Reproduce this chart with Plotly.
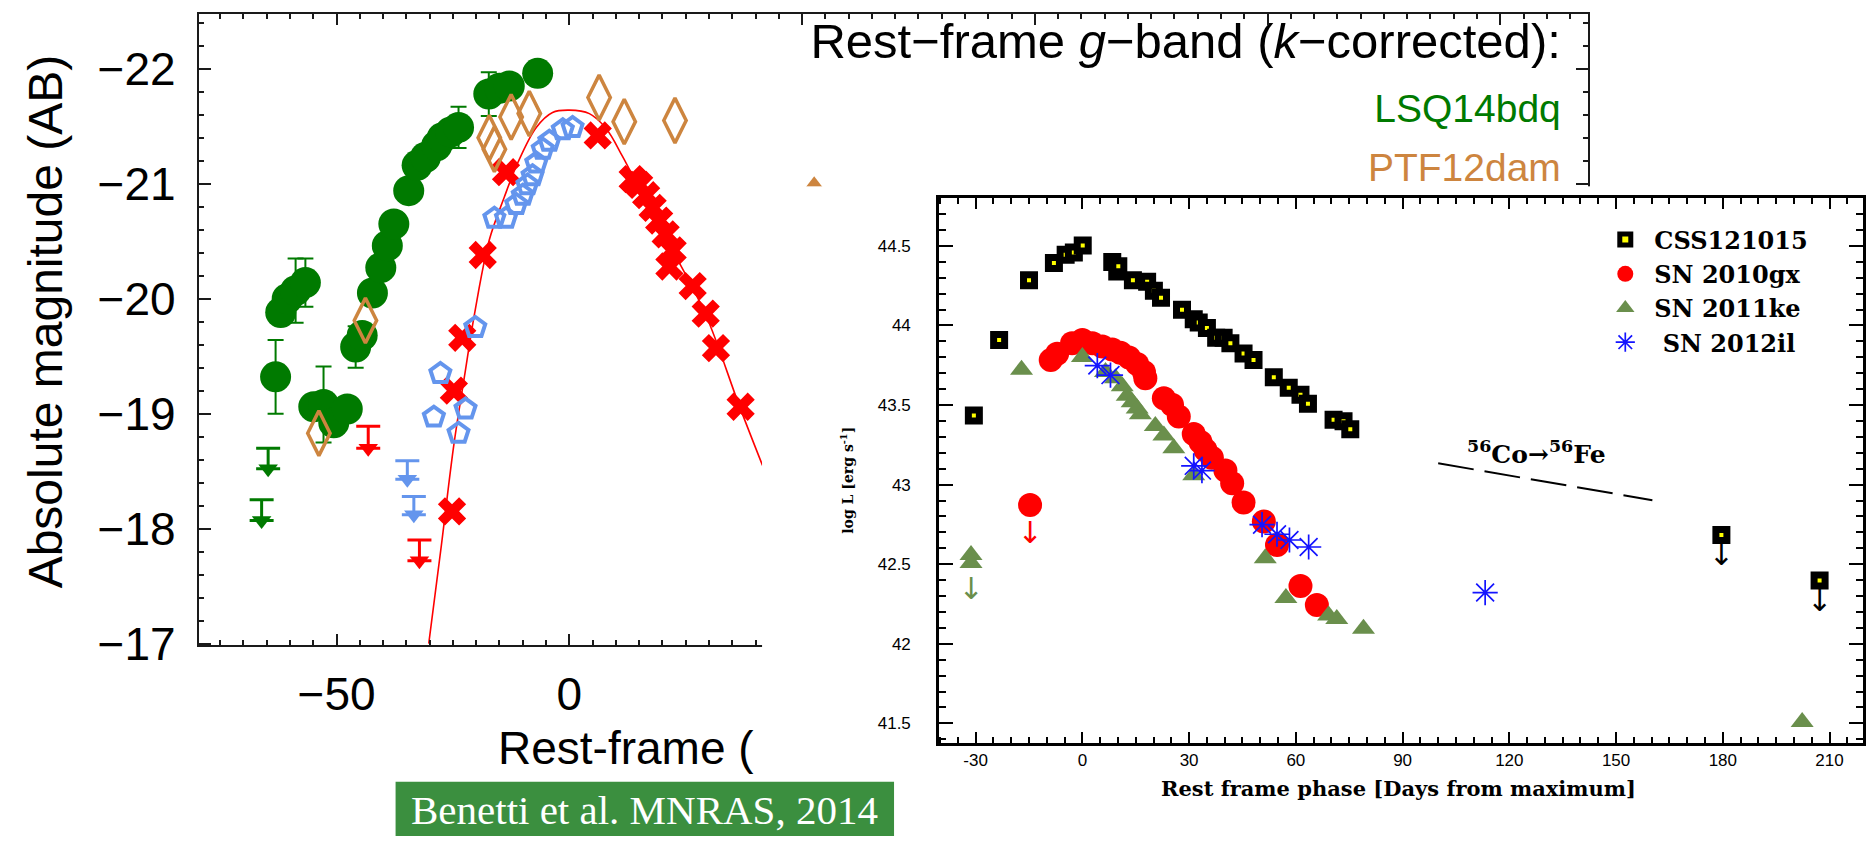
import plotly.graph_objects as go

W, H = 1866, 861

# ---------------- Left chart: rest-frame g-band light curves ----------------
lsq_day = [-63.1, -62.0, -60.6, -58.8, -56.7, -54.9, -52.8, -50.6, -47.7, -45.9, -44.5,
           -42.3, -40.5, -39.1, -37.7, -34.5, -32.7, -30.9, -28.5, -27.3, -25.5, -23.8,
           -17.3, -15.0, -12.9, -6.8]
lsq_mag = [-19.32, -19.88, -20.00, -20.07, -20.14, -19.06, -19.08, -18.92, -19.04, -19.58, -19.68,
           -20.05, -20.27, -20.46, -20.65, -20.94, -21.16, -21.23, -21.33, -21.40, -21.45, -21.49,
           -21.78, -21.83, -21.85, -21.96]
lsq_err = [0.32, 0, 0, 0.28, 0.21, 0, 0.33, 0, 0, 0.18, 0,
           0, 0, 0, 0, 0, 0, 0, 0, 0, 0, 0.18,
           0.19, 0, 0, 0]
lsq_lim_day = [-64.7, -66.1]
lsq_lim_cap = [-18.70, -18.25]
lsq_lim_head = [-18.52, -18.07]

ptf_day = [-53.8, -43.8, -17.2, -16.1, -12.5, -8.6, 6.4, 11.8, 22.7]
ptf_mag = [-18.83, -19.81, -21.40, -21.30, -21.58, -21.61, -21.75, -21.54, -21.55]

tri_day = [52.6]
tri_mag = [-20.97]

blue_day = [-29.1, -27.7, -23.8, -22.3, -20.2, -16.1, -13.6, -11.4, -10.0, -9.0, -7.9,
            -7.1, -5.7, -4.3, -1.4, 0.7]
blue_mag = [-18.97, -19.35, -18.83, -19.04, -19.75, -20.70, -20.70, -20.82, -20.90, -20.99, -21.07,
            -21.18, -21.30, -21.37, -21.47, -21.49]
blue_lim_day = [-34.8, -33.4]
blue_lim_cap = [-18.59, -18.28]
blue_lim_head = [-18.43, -18.12]

red_day = [-25.2, -24.8, -23.0, -18.6, -13.6, 6.1, 13.6, 15.0, 16.5, 17.9, 19.3, 20.7,
           21.5, 22.2, 26.5, 29.3, 31.5, 36.8]
red_mag = [-18.15, -19.20, -19.66, -20.38, -21.10, -21.42, -21.04, -20.99, -20.90, -20.79, -20.68, -20.56,
           -20.28, -20.42, -20.11, -19.87, -19.57, -19.06]
red_lim_day = [-43.2, -32.2]
red_lim_cap = [-18.89, -17.90]
red_lim_head = [-18.70, -17.72]

fit_day = [-30.2, -27.5, -24.8, -22.5, -20.4, -17.2, -14.0, -11.1, -7.1, -3.6, 0.0,
           4.3, 7.9, 11.4, 15.0, 22.2, 29.3, 36.5, 41.5]
fit_mag = [-17.00, -17.85, -18.73, -19.33, -19.86, -20.51, -20.88, -21.18, -21.49, -21.62, -21.64,
           -21.61, -21.48, -21.24, -20.96, -20.42, -19.86, -19.07, -18.55]

left_labels = ["Rest\u2212frame <i>g</i>\u2212band (<i>k</i>\u2212corrected):", "LSQ14bdq", "PTF12dam"]
left_xtitle = "Rest-frame ("
left_ytitle = "Absolute magnitude (AB)"

# ---------------- Right chart: bolometric light curves ----------------
css_day = [-30.5, -23.4, -15.0, -8.0, -4.7, -2.4, 0.1, 8.4, 9.8, 10.1, 14.2, 18.2, 20.1, 22.1,
           28.0, 31.3, 32.7, 35.0, 37.6, 39.7, 41.6, 45.3, 48.1, 53.8, 58.0, 61.3, 63.4,
           70.6, 73.4, 75.3]
css_logL = [43.434, 43.908, 44.284, 44.392, 44.444, 44.458, 44.502, 44.398, 44.338, 44.372, 44.284,
            44.274, 44.218, 44.174, 44.098, 44.038, 44.018, 43.984, 43.922, 43.922, 43.888, 43.824,
            43.782, 43.674, 43.608, 43.564, 43.508, 43.408, 43.398, 43.348]
css_lim_day = [179.6, 207.2]
css_lim_logL = [42.684, 42.398]

gx_day = [-8.9, -7.1, -2.9, 0.0, 2.8, 5.6, 8.4, 10.7, 13.1, 15.4, 17.3, 17.7, 22.9, 25.2, 27.1,
          31.3, 33.2, 34.6, 36.4, 40.2, 42.1, 45.3, 51.0, 54.7, 61.3, 65.9]
gx_logL = [43.782, 43.822, 43.888, 43.908, 43.888, 43.868, 43.848, 43.828, 43.798, 43.758, 43.708,
           43.668, 43.542, 43.502, 43.428, 43.318, 43.268, 43.218, 43.168, 43.088, 43.008, 42.888,
           42.768, 42.620, 42.363, 42.243]
gx_lim_day = [-14.7]
gx_lim_logL = [42.872]

ke_day = [-17.1, 0.0, 6.5, 9.3, 11.2, 12.6, 14.0, 15.4, 16.3, 20.5, 22.9, 25.7, 31.3,
          51.4, 57.2, 69.2, 71.5, 79.0, 202.3]
ke_logL = [43.722, 43.802, 43.708, 43.668, 43.618, 43.558, 43.518, 43.478, 43.442, 43.368, 43.308,
           43.228, 43.058, 42.538, 42.288, 42.178, 42.155, 42.094, 41.508]
ke_lim_day = [-31.3, -31.3]
ke_lim_logL = [42.558, 42.508]

il_day = [4.2, 7.9, 31.3, 33.6, 50.5, 54.7, 58.2, 63.6, 113.2]
il_logL = [43.748, 43.688, 43.118, 43.088, 42.748, 42.688, 42.652, 42.608, 42.322]

co_day = [100.0, 160.2]
co_logL = [43.134, 42.902]

right_names = ["CSS121015", "SN 2010gx", "SN 2011ke", " SN 2012il"]
r_xtick_vals = [-30, 0, 30, 60, 90, 120, 150, 180, 210]
r_xtick_text = ["-30", "0", "30", "60", "90", "120", "150", "180", "210"]
right_xtitle = "Rest frame phase [Days from maximum]"
right_ytitle = "log L [erg s<sup>-1</sup>]"
co_label = "<sup>56</sup>Co\u2192<sup>56</sup>Fe"
credit = "Benetti et al. MNRAS, 2014"
limit_glyph = "\u2193"

# ---------------- styles ----------------
GREEN = "#007a00"
PERU = "#cd853f"
CBLUE = "#6495ed"
RED = "#ff0000"
OLIVE = "#6a8f4c"
SBLUE = "#1414ff"
AXC = "#1a1a1a"
SANS = "Liberation Sans"
SERIF = "DejaVu Serif"

fig = go.Figure()

def L(**kw):
    kw.setdefault("xaxis", "x")
    kw.setdefault("yaxis", "y")
    kw.setdefault("showlegend", False)
    kw.setdefault("hoverinfo", "skip")
    return go.Scatter(**kw)

fig.add_trace(L(x=fit_day, y=fit_mag, mode="lines", line=dict(color=RED, width=1.6, shape="spline")))
fig.add_trace(L(x=lsq_day, y=lsq_mag, mode="markers",
                marker=dict(symbol="circle", size=31, color=GREEN),
                error_y=dict(type="data", array=lsq_err, visible=True, color=GREEN, thickness=2, width=8)))
fig.add_trace(L(x=red_day, y=red_mag, mode="markers",
                marker=dict(symbol="x", size=25, color=RED, line=dict(width=0))))
fig.add_trace(L(x=ptf_day, y=ptf_mag, mode="markers",
                marker=dict(symbol="diamond-tall-open", size=32, color=PERU, line=dict(width=3.5, color=PERU))))
fig.add_trace(L(x=blue_day, y=blue_mag, mode="markers",
                marker=dict(symbol="pentagon-open", size=21, color=CBLUE, line=dict(width=4, color=CBLUE))))
fig.add_trace(L(x=tri_day, y=tri_mag, mode="markers",
                marker=dict(symbol="triangle-up", size=22, color=PERU)))

for d, cap, head, col in [(lsq_lim_day, lsq_lim_cap, lsq_lim_head, GREEN),
                          (red_lim_day, red_lim_cap, red_lim_head, RED),
                          (blue_lim_day, blue_lim_cap, blue_lim_head, CBLUE)]:
    fig.add_trace(L(x=d, y=head, mode="markers",
                    marker=dict(symbol="triangle-down", size=17, color=col),
                    error_y=dict(type="data", symmetric=False, array=[0] * len(d),
                                 arrayminus=[h - c for h, c in zip(head, cap)],
                                 visible=True, color=col, thickness=3, width=12)))

# legend text of the left chart (partly covered by the overlaid panel)
fig.add_trace(L(x=[213.0, 213.0, 213.0], y=[-22.203, -21.62, -21.11], mode="text",
                text=left_labels, textposition="middle left",
                textfont=dict(family=SANS, size=[49, 39, 39], color=["black", GREEN, PERU])))

# ---------------- white panel that carries the right chart ----------------
fig.add_trace(go.Scatter(x=[0, 1, 1, 0, 0], y=[0, 0, 1, 1, 0], mode="lines", fill="toself",
                         fillcolor="white", line=dict(width=0, color="white"),
                         xaxis="x2", yaxis="y2", showlegend=False, hoverinfo="skip"))

# ---------------- right chart traces ----------------
def R(**kw):
    kw.setdefault("xaxis", "x3")
    kw.setdefault("yaxis", "y3")
    kw.setdefault("hoverinfo", "skip")
    return go.Scatter(**kw)

fig.add_trace(R(x=co_day, y=co_logL, mode="lines", showlegend=False,
                line=dict(color="black", width=2, dash="36px,11px")))
css_marker = dict(symbol="square", size=11, color="#ffff00", line=dict(color="black", width=7))
gx_marker = dict(symbol="circle", size=24, color=RED)
ke_marker = dict(symbol="triangle-up", size=20, color=OLIVE)
il_marker = dict(symbol="asterisk-open", size=21, color=SBLUE, line=dict(color=SBLUE, width=1.7))

fig.add_trace(R(x=css_day, y=css_logL, mode="markers", name=right_names[0], marker=css_marker, showlegend=True))
fig.add_trace(R(x=gx_day, y=gx_logL, mode="markers", name=right_names[1], marker=gx_marker, showlegend=True))
fig.add_trace(R(x=ke_day, y=ke_logL, mode="markers", name=right_names[2], marker=ke_marker, showlegend=True))
fig.add_trace(R(x=il_day, y=il_logL, mode="markers", name=right_names[3], marker=il_marker, showlegend=True))

# upper limits: marker with a downward arrow glyph beneath it
fig.add_trace(R(x=css_lim_day, y=css_lim_logL, mode="markers+text", marker=css_marker, showlegend=False,
                text=[limit_glyph] * len(css_lim_day), textposition="bottom center",
                textfont=dict(family="DejaVu Sans", size=30, color="black")))
fig.add_trace(R(x=gx_lim_day, y=gx_lim_logL, mode="markers+text", marker=gx_marker, showlegend=False,
                text=[limit_glyph] * len(gx_lim_day), textposition="bottom center",
                textfont=dict(family="DejaVu Sans", size=30, color=RED)))
fig.add_trace(R(x=ke_lim_day[:1], y=ke_lim_logL[:1], mode="markers", marker=ke_marker, showlegend=False))
fig.add_trace(R(x=ke_lim_day[1:], y=ke_lim_logL[1:], mode="markers+text", marker=ke_marker, showlegend=False,
                text=[limit_glyph] * len(ke_lim_day[1:]), textposition="bottom center",
                textfont=dict(family="DejaVu Sans", size=30, color=OLIVE)))

annotations = [
    dict(x=127.6, y=43.20, xref="x3", yref="y3", text=co_label, showarrow=False,
         xanchor="center", yanchor="middle",
         font=dict(family=SERIF, size=25, color="black", weight="bold")),
    dict(x=1400 / W, y=1 - 812 / H, xref="paper", yref="paper", text=right_xtitle, showarrow=False,
         xanchor="center", yanchor="middle",
         font=dict(family=SERIF, size=21, color="black", weight="bold")),
    dict(x=848 / W, y=1 - 495 / H, xref="paper", yref="paper", text=right_ytitle, showarrow=False,
         xanchor="center", yanchor="middle", textangle=-90,
         font=dict(family=SERIF, size=14, color="black", weight="bold")),
    dict(x=45 / W, y=1 - 331 / H, xref="paper", yref="paper", text=left_ytitle, showarrow=False,
         xanchor="center", yanchor="middle", textangle=-90,
         font=dict(family=SANS, size=48, color="black")),
    dict(x=497 / W, y=1 - 770 / H, xref="paper", yref="paper", text=left_xtitle, showarrow=False,
         xanchor="left", yanchor="middle",
         font=dict(family=SANS, size=46, color="black")),
    dict(x=645 / W, y=1 - 834 / H, xref="paper", yref="paper", text=credit, showarrow=False,
         xanchor="center", yanchor="middle",
         font=dict(family="Liberation Serif", size=41, color="white")),
]

shapes = [dict(type="rect", xref="paper", yref="paper", x0=396 / W, x1=895 / W, y0=0, y1=1 - 805 / H,
               fillcolor="#3b8f3f", line=dict(width=0), layer="above")]

left_ax = dict(showline=True, linecolor=AXC, linewidth=2, mirror="ticks", ticks="inside",
               tickcolor=AXC, tickwidth=2, showgrid=False, zeroline=False,
               tickfont=dict(family=SANS, size=46, color="black"))
right_ax = dict(showline=True, linecolor="black", linewidth=2.5, mirror="ticks", ticks="inside",
                tickcolor="black", tickwidth=2, showgrid=False, zeroline=False,
                tickfont=dict(family=SANS, size=17, color="black"))

fig.update_layout(
    width=W, height=H, margin=dict(l=0, r=0, t=0, b=0),
    paper_bgcolor="white", plot_bgcolor="white", hovermode=False,
    xaxis=dict(left_ax, domain=[199 / W, 1590 / W], range=[-79.6, 218.9], anchor="y",
               dtick=50, tick0=0, ticklen=11, ticklabelstandoff=8,
               minor=dict(dtick=5, tick0=0, ticks="inside", ticklen=5, tickwidth=1.5, tickcolor=AXC)),
    yaxis=dict(left_ax, domain=[1 - 664 / H, 1 - 14 / H], range=[-16.99, -22.48], anchor="x",
               dtick=1, tick0=0, ticklen=12, ticklabelstandoff=12,
               minor=dict(dtick=0.2, tick0=0, ticks="inside", ticklen=5, tickwidth=1.5, tickcolor=AXC)),
    xaxis2=dict(domain=[763 / W, 1], range=[0, 1], visible=False, anchor="y2", fixedrange=True),
    yaxis2=dict(domain=[0, 1 - 192 / H], range=[0, 1], visible=False, anchor="x2", fixedrange=True),
    xaxis3=dict(right_ax, domain=[940 / W, 1865 / W], range=[-40.3, 219.4], anchor="y3",
                tickvals=r_xtick_vals, ticktext=r_xtick_text, ticklen=11, ticklabelstandoff=0,
                minor=dict(dtick=5, tick0=0, ticks="inside", ticklen=6, tickwidth=2, tickcolor="black")),
    yaxis3=dict(right_ax, domain=[1 - 765 / H, 1 - 204 / H], range=[41.378, 44.80], anchor="x3",
                dtick=0.5, tick0=0, ticklen=14, ticklabelstandoff=22,
                minor=dict(dtick=0.1, tick0=0, ticks="inside", ticklen=7, tickwidth=2, tickcolor="black")),
    legend=dict(x=1598 / W, y=1 - 224 / H, xanchor="left", yanchor="top", bgcolor="rgba(0,0,0,0)",
                itemwidth=48, itemsizing="trace",
                font=dict(family=SERIF, size=24, color="black", weight="bold")),
    annotations=annotations,
    shapes=shapes,
)

fig.write_html("out.html")
